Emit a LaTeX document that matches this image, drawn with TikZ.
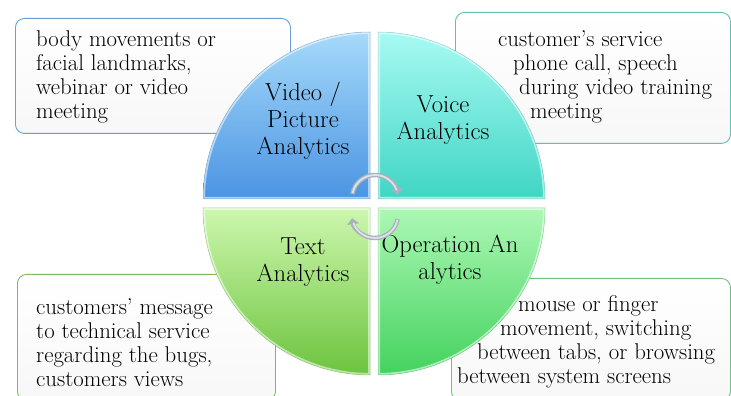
\documentclass[tikz,border=0pt]{standalone}
\usepackage{fontspec}
\usetikzlibrary{arrows.meta}

\definecolor{vidTop}{HTML}{A6DAFA}
\definecolor{vidBot}{HTML}{4A94E2}
\definecolor{voiTop}{HTML}{A8FAF3}
\definecolor{voiBot}{HTML}{3FD5C4}
\definecolor{txtTop}{HTML}{CDF7AE}
\definecolor{txtBot}{HTML}{6CC43E}
\definecolor{opTop}{HTML}{ACF8B4}
\definecolor{opBot}{HTML}{44D25E}
\definecolor{lnBlue}{HTML}{6A9ED6}
\definecolor{lnTeal}{HTML}{5DC2B4}
\definecolor{lnGreen}{HTML}{7DBA5C}
\definecolor{lnGreenB}{HTML}{6FC27E}
\definecolor{arrGray}{HTML}{A9B2BC}
\definecolor{arrLight}{HTML}{DCE2E8}

\tikzset{
  infobox/.style={rounded corners=9pt, line width=0.9pt, top color=white,
    bottom color=black!3, anchor=north west, inner sep=0pt},
  infotext/.style={anchor=north west, inner sep=0pt, align=left,
    font=\fontsize{22.8}{24}\selectfont},
  quadlabel/.style={align=center, inner sep=0pt,
    font=\fontsize{24.6}{27}\selectfont},
  cyclearrow/.style={line width=4.5pt, draw=arrGray,
    -{Triangle[width=12pt,length=6pt]}},
  cycleinner/.style={line width=1.8pt, draw=arrLight}
}

\newcommand{\quadrant}[3]{% path, top colour, bottom colour
  \begin{scope}
    \clip #1;
    \shade[top color=#2, bottom color=#3] #1;
    \draw[white, opacity=0.55, line width=4pt] #1;
  \end{scope}
  \draw[#3!80!black, opacity=0.5, line width=0.5pt] #1;
}

\begin{document}
\begin{tikzpicture}[x=1pt, y=1pt]
  \useasboundingbox (0,0) rectangle (731,396);
  \clip (0,0) rectangle (731,396);

  % description boxes
  \node[infobox, draw=lnBlue, minimum width=275, minimum height=115] (boxvid) at (15,378) {};
  \node[infobox, draw=lnTeal, minimum width=275, minimum height=131] (boxvoi) at (455,384) {};
  \node[infobox, draw=lnGreen, minimum width=258, minimum height=126] (boxtxt) at (17,122) {};
  \node[infobox, draw=lnGreenB, minimum width=279, minimum height=122] (boxop) at (451,118) {};

  % the four quarter discs
  \quadrant{(370,197) -- (203,197) arc[start angle=180, end angle=90, radius=167] -- cycle}{vidTop}{vidBot}
  \quadrant{(378,197) -- (378,364) arc[start angle=90, end angle=0, radius=167] -- cycle}{voiTop}{voiBot}
  \quadrant{(370,188) -- (370,21) arc[start angle=270, end angle=180, radius=167] -- cycle}{txtTop}{txtBot}
  \quadrant{(378,188) -- (545,188) arc[start angle=0, end angle=-90, radius=167] -- cycle}{opTop}{opBot}

  % quadrant labels
  \node[quadlabel] (lvid) at (303,275) {Video /\\Picture\\Analytics};
  \node[quadlabel] (lvoi) at (443,276) {Voice\\Analytics};
  \node[quadlabel] (ltxt) at (303,134) {Text\\Analytics};
  \node[quadlabel] (lop)  at (450,136) {Operation An\\alytics};

  % box texts
  \node[infotext] (tvid) at (36,366)
    {body movements or\\facial landmarks,\\webinar or video\\meeting};
  \node[infotext] (tvoi) at (498,366)
    {customer's service\\\hspace*{15pt}phone call, speech\\\hspace*{21pt}during video training\\\hspace*{32pt}meeting};
  \node[infotext] (ttxt) at (36,98)
    {customers' message\\to technical service\\regarding the bugs,\\customers views};
  \node[infotext] (top) at (457,101)
    {\hspace*{61pt}mouse or finger\\\hspace*{43pt}movement, switching\\\hspace*{20pt}between tabs, or browsing\\between system screens};

  % circular arrows in the middle
  \coordinate (ca) at (375,198);
  \coordinate (cb) at (375,181);
  \draw[cyclearrow] ([shift={(170:23)}]ca) arc[start angle=170, end angle=8, radius=23];
  \draw[cycleinner] ([shift={(168:23)}]ca) arc[start angle=168, end angle=20, radius=23];
  \draw[cyclearrow] ([shift={(-10:23)}]cb) arc[start angle=-10, end angle=-172, radius=23];
  \draw[cycleinner] ([shift={(-12:23)}]cb) arc[start angle=-12, end angle=-160, radius=23];
\end{tikzpicture}
\end{document}
